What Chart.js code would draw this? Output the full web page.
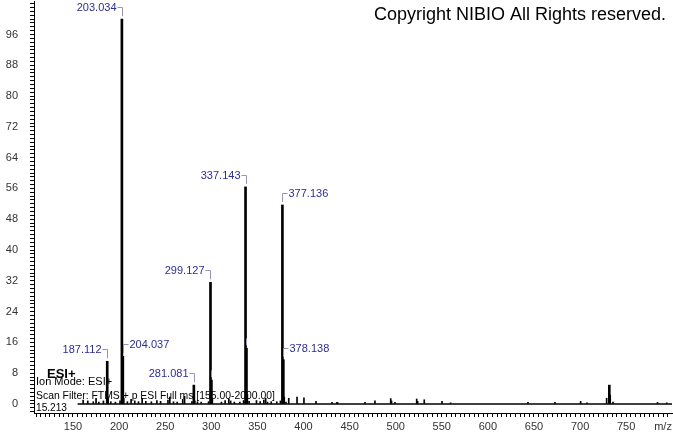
<!DOCTYPE html>
<html>
<head>
<meta charset="utf-8">
<style>
  html, body { margin: 0; padding: 0; background: #fff; }
  canvas { display: block; }
</style>
<script src="https://cdn.jsdelivr.net/npm/chart.js@4.4.1/dist/chart.umd.min.js"></script>
</head>
<body>
<canvas id="spectrum" width="673" height="433"></canvas>
<script>
// main sticks (m/z, relative abundance %)
const mainMz = [187.112, 203.034, 204.037, 281.081, 299.127, 300.130, 337.143, 338.146, 377.136, 378.138, 731.7];
const mainAbundance = [11.1, 100, 12.4, 4.9, 31.6, 6.2, 56.4, 14.5, 51.7, 11.5, 4.9];

// small peaks / noise
const noiseMz = [161, 166, 172, 175, 178, 183, 188.115, 191, 196, 201, 205.04, 209, 213, 217, 221, 225, 229,
  235, 241, 245, 253, 255, 259, 263, 269, 271, 279, 282.08, 285, 289, 297, 301.13, 311, 315, 319, 321, 325,
  331, 335, 339.15, 341, 349, 353, 357, 359, 361, 365, 371, 375, 379.14, 381, 384, 393, 400.5, 413.6, 431,
  436, 437, 466.7, 477.5, 494.6, 495.5, 499.2, 522.8, 523.8, 531, 550.2, 559.6, 643.5, 672.8, 700.6, 707.5,
  728.8, 732.7, 735.7, 784, 794];
const noiseAbundance = [1.0, 0.8, 0.6, 1.5, 0.5, 0.8, 1.2, 0.6, 0.5, 0.8, 1.5, 0.6, 1.2, 0.8, 0.6, 1.5, 0.7,
  0.6, 0.9, 0.7, 1.0, 1.8, 0.6, 0.5, 1.2, 2.0, 0.6, 0.8, 0.6, 0.5, 0.6, 1.2, 0.5, 0.9, 1.3, 0.8, 0.5,
  0.5, 0.9, 2.5, 0.7, 0.9, 0.6, 1.0, 1.5, 0.5, 0.6, 0.6, 0.8, 1.8, 0.5, 1.5, 1.8, 1.6, 0.7, 0.4,
  0.4, 0.4, 0.4, 0.8, 1.4, 0.8, 0.4, 1.3, 0.7, 1.1, 0.7, 0.3, 0.4, 0.4, 0.7, 0.3,
  1.5, 2.3, 0.5, 0.4, 0.3];

// scan range baseline
const baselineMz = [155, 800];

// peak labels
const labelMz = [203.034, 204.037, 187.112, 281.081, 299.127, 300.130, 337.143, 338.146, 377.136, 378.138];
const labelSide = ['left', 'right', 'left', 'left', 'left', 'none', 'left', 'none', 'right', 'right'];

// axis tick labels
const xTickLabels = [150, 200, 250, 300, 350, 400, 450, 500, 550, 600, 650, 700, 750];
const yTickLabels = [0, 8, 16, 24, 32, 40, 48, 56, 64, 72, 80, 88, 96];

const FONT = '"Liberation Sans", Arial, sans-serif';

const annotate = {
  id: 'annotate',
  afterDatasetsDraw(chart) {
    const { ctx, scales: { x, y } } = chart;
    ctx.save();
    ctx.lineWidth = 1;
    ctx.textBaseline = 'middle';
    ctx.font = '11px ' + FONT;
    labelMz.forEach((mz, i) => {
      const k = mainMz.indexOf(mz);
      const px = Math.round(x.getPixelForValue(mz)) + 0.5;
      const top = y.getPixelForValue(mainAbundance[k]);
      const yTop = Math.round(top - 12) + 0.5;
      ctx.strokeStyle = '#9494bc';
      ctx.beginPath();
      if (labelSide[i] === 'none') {
        ctx.moveTo(px, Math.round(top - 10) + 0.5);
      } else {
        ctx.moveTo(px + (labelSide[i] === 'left' ? -5 : 5), yTop);
        ctx.lineTo(px, yTop);
      }
      ctx.lineTo(px, top - 3);
      ctx.stroke();
      if (labelSide[i] !== 'none') {
        ctx.fillStyle = '#2d2d96';
        ctx.textAlign = labelSide[i] === 'left' ? 'right' : 'left';
        ctx.fillText(mz.toFixed(3), labelSide[i] === 'left' ? px - 6 : px + 6, yTop);
      }
    });

    // header / info texts
    ctx.fillStyle = '#000';
    ctx.textAlign = 'right';
    ctx.font = '18px ' + FONT;
    ctx.fillText('Copyright NIBIO All Rights reserved.', 666, 15);

    ctx.textAlign = 'left';
    ctx.font = 'bold 13px ' + FONT;
    ctx.fillText('ESI+', 47, 374);
    ctx.font = '11px ' + FONT;
    ctx.fillText('Ion Mode: ESI+', 36, 382);
    ctx.fillText('Scan Filter: FTMS + p ESI Full ms [155.00-2000.00]', 36, 395.5, 239);
    ctx.fillText('15.213', 36, 408, 31);
    ctx.restore();
  }
};

new Chart(document.getElementById('spectrum'), {
  type: 'bar',
  data: {
    datasets: [
      {
        type: 'line',
        data: baselineMz.map((m) => ({ x: m, y: 0 })),
        borderColor: '#000',
        borderWidth: 1.5,
        pointRadius: 0,
      },
      {
        data: noiseMz.map((m, i) => ({ x: m, y: noiseAbundance[i] })),
        backgroundColor: '#000',
        barThickness: 1,
        grouped: false,
      },
      {
        data: mainMz.map((m, i) => ({ x: m, y: mainAbundance[i] })),
        backgroundColor: '#000',
        barThickness: 2,
        grouped: false,
      },
    ],
  },
  options: {
    responsive: false,
    animation: false,
    events: [],
    layout: { padding: { top: 1, right: 1, left: 0, bottom: 0 } },
    plugins: { legend: { display: false }, tooltip: { enabled: false } },
    scales: {
      x: {
        type: 'linear',
        min: 107.7,
        max: 799.7,
        offset: false,
        afterBuildTicks: (scale) => {
          const t = [];
          for (let v = 110; v <= 795; v += 5) t.push({ value: v });
          scale.ticks = t;
        },
        afterFit: (scale) => {
          scale.height = 20;
          scale.paddingLeft = 0;
          scale.paddingRight = 0;
        },
        grid: { offset: false, drawOnChartArea: false, tickLength: 4, tickColor: '#000' },
        border: { color: '#000', width: 1 },
        ticks: {
          autoSkip: false,
          maxRotation: 0,
          padding: 3,
          color: '#333',
          font: { family: FONT, size: 11 },
          callback: (v) => (xTickLabels.includes(v) ? String(v) : v === 790 ? 'm/z' : ''),
        },
      },
      y: {
        min: -2.34,
        max: 104.7,
        afterBuildTicks: (scale) => {
          const t = [];
          for (let v = -2; v <= 104; v += 1) t.push({ value: v });
          scale.ticks = t;
        },
        afterFit: (scale) => {
          scale.width = 34;
          scale.paddingTop = 0;
          scale.paddingBottom = 0;
        },
        grid: { drawOnChartArea: false, tickLength: 4, tickColor: '#000' },
        border: { color: '#000', width: 1 },
        ticks: {
          autoSkip: false,
          padding: 12,
          color: '#333',
          font: { family: FONT, size: 11 },
          callback: (v) => (yTickLabels.includes(v) ? String(v) : ''),
        },
      },
    },
  },
  plugins: [annotate],
});
</script>
</body>
</html>
